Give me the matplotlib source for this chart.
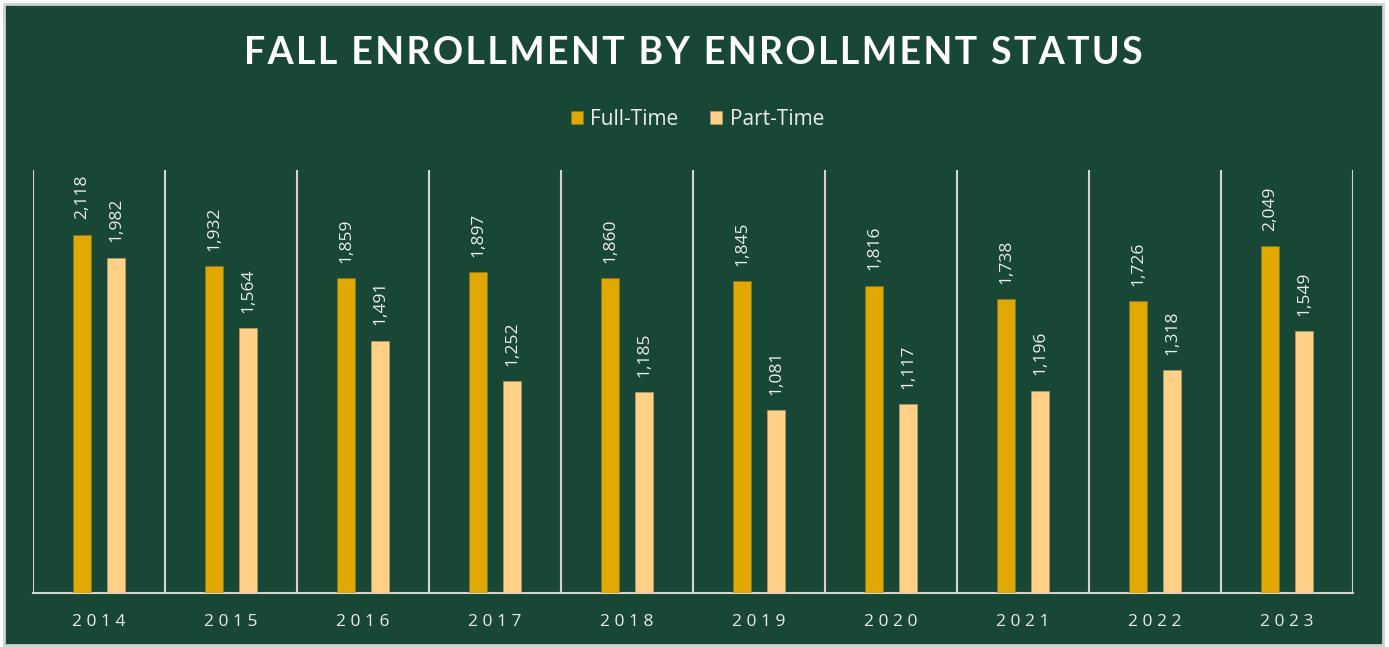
import numpy as np
import matplotlib.pyplot as plt
from matplotlib.patches import Rectangle

#data
years = ['2014', '2015', '2016', '2017', '2018', '2019', '2020', '2021', '2022', '2023']
full_time = [2118, 1932, 1859, 1897, 1860, 1845, 1816, 1738, 1726, 2049]
part_time = [1982, 1564, 1491, 1252, 1185, 1081, 1117, 1196, 1318, 1549]

#colors
bg_color = '#194735'
ft_color = '#e0a800'
pt_color = '#ffd085'
line_color = '#d4d4d4'
text_color = '#ececec'

plt.rcParams['font.family'] = ['Open Sans', 'DejaVu Sans']

fig = plt.figure(figsize=(13.89, 6.47), dpi=100)
fig.patch.set_facecolor('white')

#green panel with light border
panel = Rectangle((4/1389, 2/647), 1379/1389, 641/647, transform=fig.transFigure,
                  facecolor=bg_color, edgecolor='#d0d0d0', linewidth=2, zorder=-10)
fig.patches.append(panel)

ax = fig.add_axes([33/1389, 54/647, 1320/1389, 423/647])
ax.set_facecolor('none')

x = np.arange(len(years))
width = 0.136
offset = 0.129

bars1 = ax.bar(x - offset, full_time, width, color=ft_color, edgecolor='#8a7a2a', linewidth=0.4, label='Full-Time', zorder=3)
bars2 = ax.bar(x + offset, part_time, width, color=pt_color, edgecolor='#b8a070', linewidth=0.4, label='Part-Time', zorder=3)

#value labels
for bars in (bars1, bars2):
    for b in bars:
        h = b.get_height()
        ax.annotate('{:,}'.format(int(h)), (b.get_x() + b.get_width()/2, h),
                    xytext=(0, 11), textcoords='offset points', rotation=90,
                    ha='center', va='bottom', color=text_color, fontsize=12.5)

#separators between categories
for b in np.arange(-0.5, len(years), 1.0):
    ax.axvline(b, color=line_color, linewidth=1.5, zorder=1)

ax.set_xlim(-0.5, len(years) - 0.5)
ax.set_ylim(0, 2500)

for s in ['top', 'right', 'left']:
    ax.spines[s].set_visible(False)
ax.spines['bottom'].set_color(line_color)
ax.spines['bottom'].set_linewidth(1.5)

ax.set_yticks([])
ax.set_xticks(x)
ax.set_xticklabels([' '.join(y) for y in years], color=text_color, fontsize=12.5)
ax.tick_params(axis='x', length=0, pad=15)

#title (letter spaced with hair spaces) and legend
title = 'FALL ENROLLMENT BY ENROLLMENT STATUS'
fig.text(0.4995, 0.918, '\u200a'.join(title), ha='center', va='center',
         color='white', fontsize=27, fontweight='bold', family=['Lato', 'DejaVu Sans'])

leg = fig.legend(loc='center', bbox_to_anchor=(0.502, 0.816), ncol=2, frameon=False,
                 fontsize=15, handlelength=0.6, handleheight=0.6, handletextpad=0.35,
                 columnspacing=1.5)
for t in leg.get_texts():
    t.set_color(text_color)

fig.savefig('out.png', dpi=100)
